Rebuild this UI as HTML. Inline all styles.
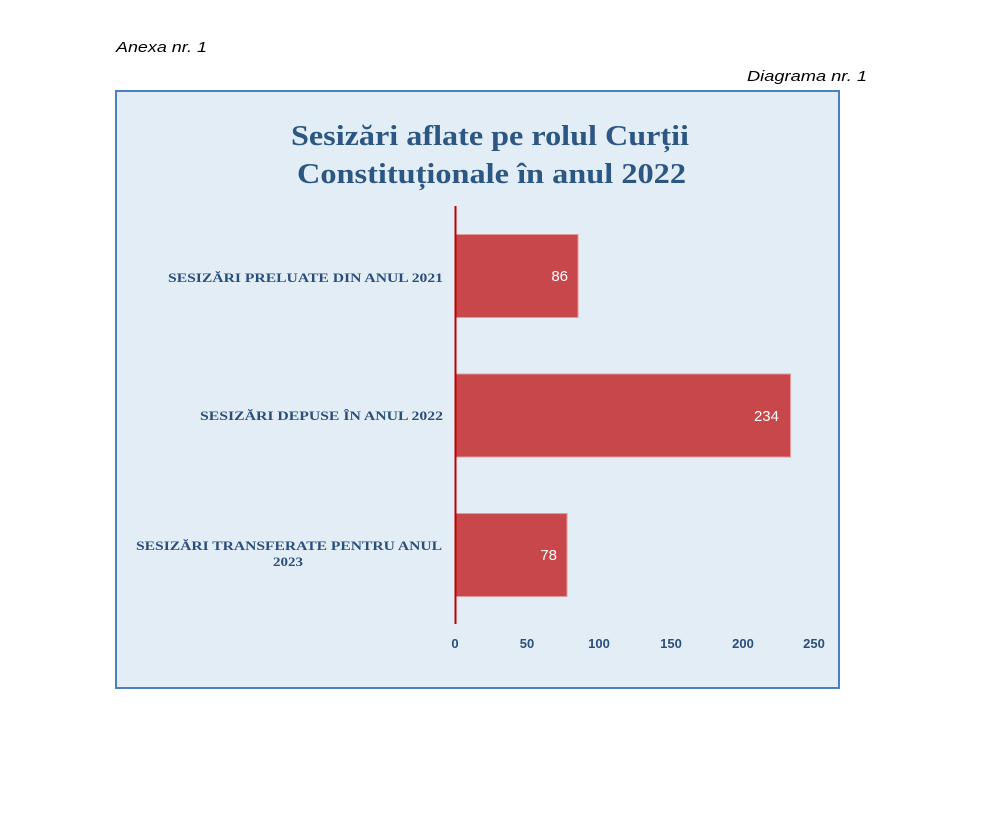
<!DOCTYPE html>
<html>
<head>
<meta charset="utf-8">
<style>
html,body{margin:0;padding:0;background:#ffffff;}
body{width:982px;height:832px;overflow:hidden;position:relative;}
svg{position:absolute;left:0;top:0;}
</style>
</head>
<body>
<svg width="982" height="832" viewBox="0 0 982 832" xmlns="http://www.w3.org/2000/svg">
  <rect x="0" y="0" width="982" height="832" fill="#ffffff"/>
  <!-- header text -->
  <text x="116" y="52" font-family="Liberation Sans, sans-serif" font-style="italic" font-size="15" fill="#000" textLength="91" lengthAdjust="spacingAndGlyphs">Anexa nr. 1</text>
  <text x="747" y="81" font-family="Liberation Sans, sans-serif" font-style="italic" font-size="15" fill="#000" textLength="120" lengthAdjust="spacingAndGlyphs">Diagrama nr. 1</text>

  <!-- chart box -->
  <rect x="116" y="91" width="723" height="597" fill="#e3edf6" stroke="#4a80c2" stroke-width="2"/>

  <!-- title -->
  <g font-family="Liberation Serif, serif" font-weight="bold" font-size="28" fill="#2d5783">
    <text x="291" y="145" textLength="398" lengthAdjust="spacingAndGlyphs">Sesizări aflate pe rolul Curții</text>
    <text x="297" y="183" textLength="389" lengthAdjust="spacingAndGlyphs">Constituționale în anul 2022</text>
  </g>

  <!-- bars -->
  <g fill="#c8474b" stroke="#e49a9b" stroke-width="1">
    <rect x="456" y="234.5" width="122" height="83"/>
    <rect x="456" y="374" width="334.5" height="83"/>
    <rect x="456" y="513.5" width="111" height="83"/>
  </g>

  <!-- axis line -->
  <line x1="455.5" y1="206" x2="455.5" y2="624" stroke="#c00000" stroke-width="2"/>

  <!-- data labels -->
  <g font-family="Liberation Sans, sans-serif" font-size="15" fill="#ffffff" text-anchor="end">
    <text x="568" y="281">86</text>
    <text x="779" y="421">234</text>
    <text x="557" y="560">78</text>
  </g>

  <!-- category labels -->
  <g font-family="Liberation Serif, serif" font-weight="bold" font-size="13" fill="#2b4f7c">
    <text x="168" y="282" textLength="275" lengthAdjust="spacingAndGlyphs">SESIZĂRI PRELUATE DIN ANUL 2021</text>
    <text x="200" y="420" textLength="243" lengthAdjust="spacingAndGlyphs">SESIZĂRI DEPUSE ÎN ANUL 2022</text>
    <text x="136" y="550" textLength="306" lengthAdjust="spacingAndGlyphs">SESIZĂRI TRANSFERATE PENTRU ANUL</text>
    <text x="273" y="566" textLength="30" lengthAdjust="spacingAndGlyphs">2023</text>
  </g>

  <!-- x tick labels -->
  <g font-family="Liberation Sans, sans-serif" font-weight="bold" font-size="13" fill="#2b4f7c" text-anchor="middle">
    <text x="455" y="648">0</text>
    <text x="527" y="648">50</text>
    <text x="599" y="648">100</text>
    <text x="671" y="648">150</text>
    <text x="743" y="648">200</text>
    <text x="814" y="648">250</text>
  </g>
</svg>
</body>
</html>
